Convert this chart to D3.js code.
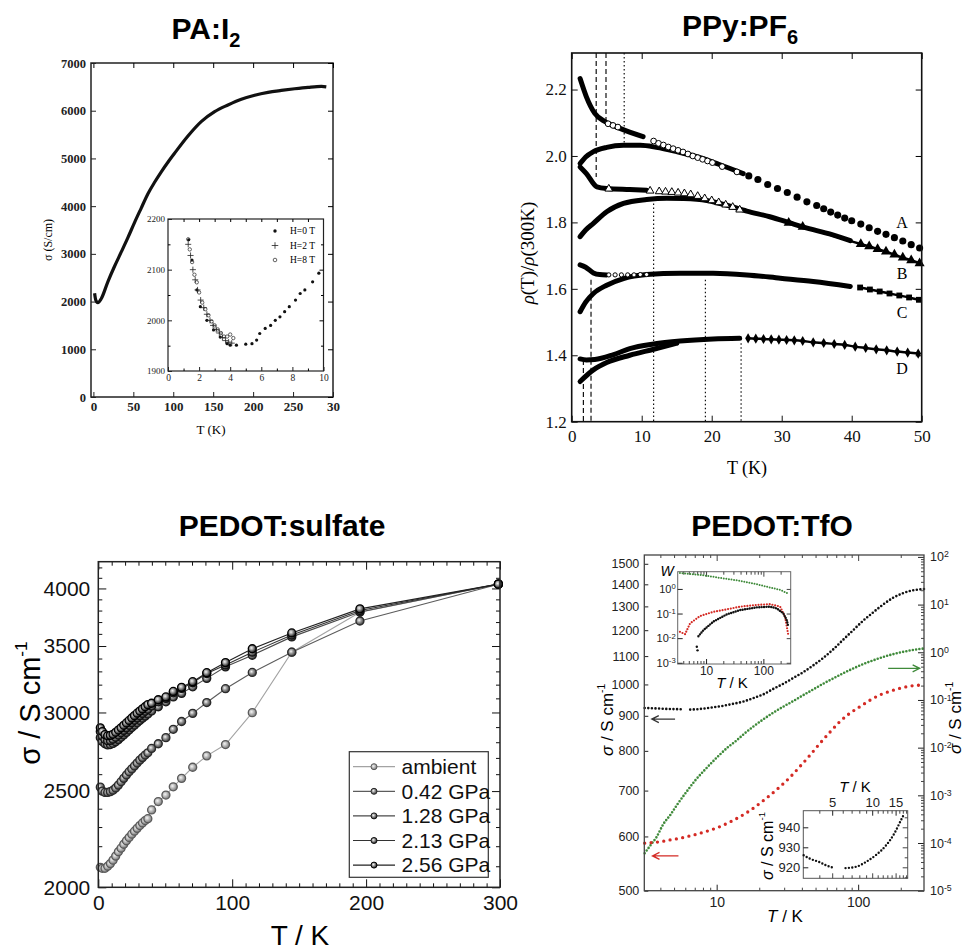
<!DOCTYPE html>
<html>
<head>
<meta charset="utf-8">
<script src="https://cdn.jsdelivr.net/npm/d3@7"></script>
<style>body{margin:0;background:#fff}</style>
</head>
<body>
<svg id="fig" width="965" height="952"></svg>
<script>
// ---------- PA:I2 (main + inset) ----------
const paT = [1.5, 3, 5.6, 9.8, 18.2, 26.5, 34.9, 43.2, 51.6, 59.9, 68.3, 76.6, 85, 93.3, 101.7, 118.4, 135, 151.8, 168.5, 185.2, 201.9, 218.6, 235.3, 252, 268.7, 285.4, 291.6]
const paSigma = [2173, 2030, 1977, 2060, 2420, 2740, 3040, 3340, 3660, 3960, 4260, 4500, 4720, 4920, 5110, 5470, 5771, 5980, 6120, 6240, 6325, 6385, 6425, 6460, 6490, 6510, 6500]
const paXTicks = [0, 50, 100, 150, 200, 250, 300]
const paYTicks = [0, 1000, 2000, 3000, 4000, 5000, 6000, 7000]
const h0T = [1.33, 1.54, 1.86, 2.08, 2.5, 2.93, 3.36, 3.8, 4.0, 4.4, 5.0, 5.4, 5.7, 5.9, 6.25, 6.6, 6.9, 7.2, 7.5, 7.8, 8.2, 8.5, 8.8, 9.3, 9.7]
const h0S = [2159, 2119, 2060, 2027, 2000, 1981, 1967, 1954, 1951, 1951, 1953, 1954, 1961, 1974, 1984, 1990, 2000, 2007, 2017, 2027, 2040, 2053, 2060, 2076, 2093]
const h2T = [1.3, 1.45, 1.6, 1.75, 1.9, 2.1, 2.3, 2.5, 2.7, 2.9, 3.1, 3.3, 3.5, 3.7, 3.9, 4.1]
const h2S = [2150, 2128, 2100, 2080, 2060, 2040, 2025, 2012, 2000, 1990, 1982, 1975, 1966, 1960, 1957, 1955]
const h8T = [1.3, 1.4, 1.55, 1.7, 1.85, 2.0, 2.2, 2.4, 2.6, 2.8, 3.0, 3.2, 3.4, 3.6, 3.8, 4.0, 4.2]
const h8S = [2160, 2140, 2115, 2090, 2075, 2055, 2035, 2022, 2010, 1998, 1990, 1982, 1975, 1968, 1968, 1972, 1965]
const paLegend = ["H=0 T", "H=2 T", "H=8 T"]

// ---------- PPy:PF6 ----------
const aHighT = [1.2, 2.1, 3.3, 4.8, 6.9, 10.2]
const aHighV = [2.233, 2.178, 2.128, 2.103, 2.083, 2.058]
const aOpenT = [5.2, 5.9, 6.6, 11.7, 12.4, 13.1, 13.8, 14.5, 15.2, 15.9, 16.6, 17.3, 18.0, 18.7, 19.4, 20.1, 21.5, 23.6]
const aOpenV = [2.097, 2.092, 2.087, 2.045, 2.038, 2.033, 2.027, 2.022, 2.017, 2.012, 2.006, 2.0, 1.995, 1.99, 1.985, 1.98, 1.968, 1.952]
const aLowT = [1.2, 2, 3.1, 5, 7.4, 9.8, 12.1, 15, 18, 21, 24.5]
const aLowV = [1.977, 1.997, 2.013, 2.026, 2.032, 2.032, 2.026, 2.013, 1.997, 1.975, 1.947]
const aTailT = [25.3, 26.6, 28, 29.4, 30.8, 32.2, 33.6, 35, 36, 37, 38, 39, 40, 41.3, 42.5, 43.7, 44.9, 46.1, 47.3, 48.5, 49.7]
const aTailV = [1.940, 1.929, 1.914, 1.902, 1.89, 1.876, 1.862, 1.851, 1.841, 1.831, 1.822, 1.813, 1.805, 1.795, 1.784, 1.773, 1.764, 1.754, 1.744, 1.733, 1.723]
const bHighT = [1.2, 2.1, 3.6, 5, 8.3, 10.7]
const bHighV = [1.967, 1.947, 1.907, 1.902, 1.899, 1.897]
const bOpenT = [5.3, 11.2, 12.5, 13.4, 14.3, 15.2, 16.1, 17, 18, 19, 20, 21, 22, 23, 24]
const bOpenV = [1.901, 1.895, 1.893, 1.892, 1.891, 1.889, 1.887, 1.884, 1.879, 1.872, 1.866, 1.86, 1.853, 1.846, 1.838]
const bLowT = [1.2, 2, 3.1, 5, 7.4, 10.7, 13.6, 16, 19.3, 22.1, 25, 28.3, 31.7, 34.5, 37.4, 39.8]
const bLowV = [1.757, 1.777, 1.797, 1.832, 1.857, 1.869, 1.873, 1.872, 1.866, 1.852, 1.834, 1.817, 1.795, 1.778, 1.762, 1.745]
const bTailT = [31, 33, 41.3, 42.5, 43.7, 44.9, 46.1, 47.3, 48.5, 49.7]
const bTailV = [1.799, 1.787, 1.735, 1.728, 1.72, 1.712, 1.703, 1.694, 1.686, 1.677]
const cHighT = [1.2, 2, 3.1, 4, 5]
const cHighV = [1.672, 1.665, 1.648, 1.643, 1.642]
const cOpenT = [5.3, 6.2, 7.1, 8, 8.9, 9.8, 10.7]
const cOpenV = [1.642, 1.642, 1.642, 1.642, 1.642, 1.643, 1.643]
const cLowT = [1.2, 2, 3.1, 5, 7.4, 10.7, 15.5, 20.2, 25, 29.8, 34.5, 39.8]
const cLowV = [1.531, 1.56, 1.586, 1.611, 1.631, 1.643, 1.647, 1.647, 1.642, 1.632, 1.622, 1.607]
const cTailT = [41.2, 42.6, 44, 45.4, 46.8, 48.2, 49.6]
const cTailV = [1.604, 1.598, 1.592, 1.586, 1.58, 1.574, 1.567]
const dHighT = [1.2, 2.1, 3.3, 6, 8.3, 11.7, 15.5, 20.2, 24]
const dHighV = [1.389, 1.386, 1.387, 1.402, 1.42, 1.434, 1.443, 1.449, 1.451]
const dLowT = [1.2, 3.1, 5, 8.3, 11.7, 15]
const dLowV = [1.321, 1.356, 1.378, 1.4, 1.418, 1.436]
const dTailT = [25.2, 26.3, 27.4, 28.5, 29.6, 30.7, 31.8, 33, 34.5, 36, 37.5, 39, 40.5, 42, 43.5, 45, 46.5, 48, 49.5]
const dTailV = [1.451, 1.45, 1.449, 1.448, 1.447, 1.446, 1.445, 1.443, 1.439, 1.437, 1.434, 1.431, 1.426, 1.422, 1.418, 1.415, 1.411, 1.408, 1.405]
const ppyCurveLabels = ["A", "B", "C", "D"]
const ppyLabelV = [1.8, 1.646, 1.53, 1.36]
const vlineT = [3.5, 4.9, 7.5, 2.76, 1.67, 11.7, 19.1, 24.2]
const vlineTop = [2.31, 2.31, 2.31, 1.627, 1.386, 1.857, 1.627, 1.436]
const vlineBottom = [1.937, 2.098, 2.04, 1.2, 1.2, 1.2, 1.2, 1.2]
const vlineDashed = [true, true, false, true, true, false, false, false]
const ppyXTicks = [0, 10, 20, 30, 40, 50]
const ppyYTicks = [1.2, 1.4, 1.6, 1.8, 2.0, 2.2]

// ---------- PEDOT:sulfate ----------
const sulfT = [1.5, 3, 5, 7, 9, 11, 13, 15, 17, 19, 21, 23, 25, 27, 29, 31, 33, 35, 37, 39.8, 44.8, 50.5, 56, 62.2, 70.5, 81, 95, 115, 144.5, 195.4, 298.8]
const sulfAmbient = [2095, 2090, 2090, 2100, 2113, 2130, 2150, 2172, 2190, 2210, 2228, 2245, 2262, 2278, 2293, 2308, 2322, 2335, 2345, 2393, 2440, 2477, 2525, 2575, 2642, 2713, 2785, 2999, 3450, 3785, 4040]
const sulf042 = [2523, 2500, 2492, 2492, 2497, 2505, 2518, 2535, 2555, 2575, 2595, 2615, 2632, 2650, 2668, 2686, 2702, 2718, 2732, 2760, 2790, 2830, 2885, 2938, 2994, 3070, 3170, 3292, 3450, 3709, 4040]
const sulf128 = [2830, 2805, 2790, 2783, 2785, 2792, 2803, 2817, 2832, 2848, 2864, 2880, 2897, 2913, 2929, 2945, 2960, 2975, 2990, 3010, 3040, 3075, 3110, 3136, 3184, 3247, 3335, 3426, 3575, 3788, 4040]
const sulf213 = [2870, 2840, 2818, 2810, 2812, 2820, 2832, 2847, 2862, 2878, 2895, 2912, 2930, 2946, 2962, 2978, 2993, 3008, 3022, 3045, 3075, 3100, 3140, 3172, 3214, 3284, 3350, 3450, 3590, 3800, 4040]
const sulf256 = [2895, 2870, 2850, 2842, 2845, 2852, 2865, 2880, 2895, 2912, 2928, 2945, 2962, 2978, 2995, 3010, 3025, 3040, 3055, 3065, 3090, 3110, 3150, 3180, 3222, 3290, 3368, 3478, 3608, 3815, 4040]
const sulfNames = ["ambient", "0.42 GPa", "1.28 GPa", "2.13 GPa", "2.56 GPa"]
const sulfXTicks = [0, 100, 200, 300]
const sulfYTicks = [2000, 2500, 3000, 3500, 4000]

// ---------- PEDOT:TfO ----------
const tfoBlackLowT = [3.1, 3.5, 4.0, 4.5, 5.0, 5.6]
const tfoBlackLowS = [924, 923, 922, 921, 920.5, 920]
const tfoBlackT = [6.5, 7.2, 8.0, 9.47, 11.2, 13.1, 15.4, 18.1, 21.3, 25.1, 29.5, 34.8, 40.9, 48.1, 56.6, 66.6, 78.3, 92.2, 108, 127.6, 150, 176.6, 208, 244, 270, 292]
const tfoBlackS = [919, 920, 922, 926, 931, 937, 944, 955, 967, 985, 1002, 1022, 1042, 1066, 1093, 1125, 1162, 1200, 1238, 1274, 1308, 1338, 1359, 1372, 1376, 1378]
const tfoGreenT = [3.1, 3.4, 3.77, 4.2, 4.68, 5.3, 6.14, 7, 8.04, 9.2, 10.5, 12, 13.8, 15.8, 18.1, 21.3, 25.1, 29.5, 34.8, 40.9, 48.1, 56.6, 66.6, 78.3, 92.2, 108, 127.6, 150, 176.6, 208, 244, 292]
const tfoGreenS = [6.1e-5, 8.9e-5, 1.35e-4, 2.5e-4, 3.8e-4, 6.6e-4, 1.2e-3, 2.0e-3, 3.16e-3, 4.8e-3, 7.1e-3, 1.02e-2, 1.41e-2, 2.0e-2, 2.75e-2, 3.9e-2, 5.4e-2, 7.2e-2, 9.5e-2, 0.126, 0.166, 0.219, 0.282, 0.363, 0.457, 0.562, 0.676, 0.794, 0.912, 1.02, 1.12, 1.2]
const tfoRedT = [3.1, 3.5, 3.98, 4.6, 5.5, 6.5, 7.62, 9, 10.5, 12.4, 14.6, 17.2, 20.2, 23.8, 28, 33, 38.7, 45.6, 53.7, 63.1, 74.2, 87.3, 102.7, 120.8, 142, 167, 197, 232, 270, 292]
const tfoRedS = [9.9e-5, 1.02e-4, 1.06e-4, 1.15e-4, 1.26e-4, 1.41e-4, 1.6e-4, 1.86e-4, 2.2e-4, 2.75e-4, 3.56e-4, 4.8e-4, 6.8e-4, 1.0e-3, 1.51e-3, 2.4e-3, 4.0e-3, 6.9e-3, 1.23e-2, 2.1e-2, 3.5e-2, 5.25e-2, 7.2e-2, 9.8e-2, 0.127, 0.151, 0.175, 0.195, 0.204, 0.205]
const tfoLeftTicks = [500, 600, 700, 800, 900, 1000, 1100, 1200, 1300, 1400, 1500]
const tfoRightTicks = [1e-5, 1e-4, 1e-3, 1e-2, 1e-1, 1, 10, 100]
const wGreenT = [3.5, 5, 7.9, 12, 17.5, 26, 39, 58, 87, 130, 196, 280]
const wGreenV = [4.47, 4.07, 3.72, 3.24, 2.82, 2.45, 2.14, 1.78, 1.45, 1.15, 0.91, 0.63]
const wRedT = [3.5, 4.3, 5.27, 7.86, 13.4, 23, 39.2, 76.7, 131, 196, 239, 273]
const wRedV = [0.018, 0.0145, 0.04, 0.079, 0.117, 0.148, 0.19, 0.224, 0.24, 0.19, 0.074, 0.013]
const wBlackT = [7.35, 8.97, 13.4, 23, 39.2, 76.7, 131, 171, 223, 256, 273]
const wBlackV = [0.012, 0.021, 0.047, 0.093, 0.138, 0.178, 0.19, 0.162, 0.102, 0.054, 0.029]
const wStrayT = [6.9, 7.1]
const wStrayV = [0.0045, 0.0032]
const i2LowT = [3.05, 3.4, 4.05, 4.5, 5.0]
const i2LowS = [926, 924.3, 922.5, 921, 920]
const i2T = [6.3, 7.6, 9.04, 10.7, 12.8, 14.7, 16.5, 17.5]
const i2S = [919.6, 920.3, 922.8, 926.2, 931.2, 937, 943.7, 947]

const SERIF = "'Liberation Serif','Times New Roman',serif"
const SANS = "'Liberation Sans',Arial,Helvetica,sans-serif"
const svg = d3.select("#fig")
svg.append("rect").attr("width", 965).attr("height", 952).attr("fill", "#fff")

const zip = (a, b) => a.map((v, i) => [v, b[i]])

// inward ticks on any side, labels optional
function axis(parent, gen, scale, pos, vals, size, fmt, pad, font, fs, color) {
    const horiz = gen === d3.axisBottom || gen === d3.axisTop
    const a = gen(scale).tickValues(vals).tickSize(-size).tickPadding(pad || 3)
        .tickFormat(fmt || (() => ""))
    const g = parent.append("g")
        .attr("transform", horiz ? `translate(0,${pos})` : `translate(${pos},0)`)
        .call(a)
    g.select(".domain").remove()
    g.attr("font-family", font || SANS).attr("font-size", fs || 12)
    g.selectAll("line").attr("stroke", color || "#000")
    g.selectAll("text").attr("fill", color || "#000")
    return g
}
function frame(parent, x, y, stroke, sw, fill) {
    const [x0, x1] = x.range(), [y0, y1] = y.range()
    parent.append("rect")
        .attr("x", Math.min(x0, x1)).attr("y", Math.min(y0, y1))
        .attr("width", Math.abs(x1 - x0)).attr("height", Math.abs(y1 - y0))
        .attr("fill", fill || "none").attr("stroke", stroke).attr("stroke-width", sw)
}
function sup10(sel) {
    sel.selectAll(".tick text").each(function (d) {
        const e = Math.round(Math.log10(d))
        const t = d3.select(this).text("10")
        t.append("tspan").attr("dy", "-0.45em").attr("font-size", "0.7em").text(e)
    })
}
function title(x, y, main, sub) {
    const t = svg.append("text").attr("x", x).attr("y", y).attr("text-anchor", "middle")
        .attr("font-family", SANS).attr("font-weight", "bold").attr("font-size", 30).text(main)
    if (sub) t.append("tspan").attr("font-size", 20).attr("dy", 8).text(sub)
}
function sigmaLabel(parent, x, y, fs, italic) {
    const t = parent.append("text").attr("transform", `translate(${x},${y}) rotate(-90)`)
        .attr("text-anchor", "middle").attr("dy", "0.35em")
        .attr("font-family", SANS).attr("font-size", fs)
    t.append("tspan").attr("font-style", italic ? "italic" : "normal").text("σ")
    t.append("tspan").text(" / S cm")
    t.append("tspan").attr("dy", "-0.75em").attr("font-size", "0.6em").text("-1")
}

// ================= PA:I2 =================
title(206, 39, "PA:I", "2")
const pa = svg.append("g")
const x1 = d3.scaleLinear().domain([-3, 300]).range([91, 333])
const y1 = d3.scaleLinear().domain([0, 7000]).range([397, 63])
frame(pa, x1, y1, "#222", 1.5)
axis(pa, d3.axisBottom, x1, 397, paXTicks, 5, d => d === 300 ? "30" : d, 5, SERIF, 13, "#222").attr("font-weight", "bold")
axis(pa, d3.axisTop, x1, 63, paXTicks, 5)
axis(pa, d3.axisLeft, y1, 91, paYTicks, 5, d => d, 5, SERIF, 12.5, "#222").attr("font-weight", "bold")
axis(pa, d3.axisRight, y1, 333, paYTicks, 5)
pa.append("path").datum(zip(paT, paSigma))
    .attr("fill", "none").attr("stroke", "#111").attr("stroke-width", 3.2).attr("stroke-linejoin", "round")
    .attr("d", d3.line().x(d => x1(d[0])).y(d => y1(d[1])).curve(d3.curveMonotoneX))
pa.append("text").attr("transform", "translate(48,240) rotate(-90)").attr("text-anchor", "middle")
    .attr("dy", "0.35em").attr("font-family", SERIF).attr("font-size", 12).text("σ (S/cm)")
pa.append("text").attr("x", 211).attr("y", 434).attr("text-anchor", "middle")
    .attr("font-family", SERIF).attr("font-size", 13).text("T (K)")

// inset
const x1i = d3.scaleLinear().domain([0, 10]).range([168, 323.5])
const y1i = d3.scaleLinear().domain([1900, 2200]).range([371, 219])
frame(pa, x1i, y1i, "#222", 1.2, "#fff")
axis(pa, d3.axisBottom, x1i, 371, [0, 2, 4, 6, 8, 10], 4, d => d, 3, SERIF, 9.5, "#222")
axis(pa, d3.axisBottom, x1i, 371, [1, 3, 5, 7, 9], 2.5)
axis(pa, d3.axisTop, x1i, 219, [1, 2, 3, 4, 5, 6, 7, 8, 9], 3)
axis(pa, d3.axisLeft, y1i, 168, [1900, 2000, 2100, 2200], 4, d => d, 3, SERIF, 9, "#222")
axis(pa, d3.axisLeft, y1i, 168, [1950, 2050, 2150], 2.5)
axis(pa, d3.axisRight, y1i, 323.5, [2000, 2100], 4)
axis(pa, d3.axisRight, y1i, 323.5, [1950, 2050, 2150], 2.5)
pa.append("g").selectAll("circle").data(zip(h0T, h0S)).join("circle")
    .attr("cx", d => x1i(d[0])).attr("cy", d => y1i(d[1])).attr("r", 1.6).attr("fill", "#111")
pa.append("g").selectAll("path").data(zip(h2T, h2S)).join("path")
    .attr("transform", d => `translate(${x1i(d[0])},${y1i(d[1])})`)
    .attr("d", d3.symbol(d3.symbolPlus, 14)).attr("fill", "none").attr("stroke", "#222").attr("stroke-width", 0.8)
pa.append("g").selectAll("circle").data(zip(h8T, h8S)).join("circle")
    .attr("cx", d => x1i(d[0])).attr("cy", d => y1i(d[1])).attr("r", 1.7)
    .attr("fill", "none").attr("stroke", "#222").attr("stroke-width", 0.7)
const paLeg = pa.append("g").attr("font-family", SERIF).attr("font-size", 9.5)
paLeg.selectAll("text").data(paLegend).join("text")
    .attr("x", 290).attr("y", (d, i) => 231 + i * 14.5).attr("dy", "0.35em").text(d => d)
paLeg.append("circle").attr("cx", 275).attr("cy", 231).attr("r", 1.7).attr("fill", "#111")
paLeg.append("path").attr("transform", "translate(275,245.5)").attr("d", d3.symbol(d3.symbolPlus, 16))
    .attr("fill", "none").attr("stroke", "#222").attr("stroke-width", 0.8)
paLeg.append("circle").attr("cx", 275).attr("cy", 260).attr("r", 1.8).attr("fill", "none").attr("stroke", "#222").attr("stroke-width", 0.7)

// ================= PPy:PF6 =================
title(740, 36, "PPy:PF", "6")
const pp = svg.append("g")
const x2 = d3.scaleLinear().domain([0, 50]).range([571.7, 921.7])
const y2 = d3.scaleLinear().domain([1.2, 2.31]).range([421.7, 53])
axis(pp, d3.axisBottom, x2, 421.7, ppyXTicks, 6, d => d, 8, SERIF, 17, "#111")
axis(pp, d3.axisTop, x2, 53, ppyXTicks, 6)
axis(pp, d3.axisLeft, y2, 571.7, ppyYTicks, 6, d3.format(".1f"), 5, SERIF, 17, "#111")
axis(pp, d3.axisRight, y2, 921.7, ppyYTicks, 6)
// guide lines
pp.append("g").selectAll("line").data(vlineT).join("line")
    .attr("x1", d => x2(d)).attr("x2", d => x2(d))
    .attr("y1", (d, i) => y2(vlineTop[i])).attr("y2", (d, i) => y2(vlineBottom[i]))
    .attr("stroke", "#111").attr("stroke-width", 1.2)
    .attr("stroke-dasharray", (d, i) => vlineDashed[i] ? "5,3" : "1.5,2.5")
const ppLine = d3.line().x(d => x2(d[0])).y(d => y2(d[1])).curve(d3.curveMonotoneX)
const ppyThick = [[aHighT, aHighV], [aLowT, aLowV], [bHighT, bHighV], [bLowT, bLowV],
    [cHighT, cHighV], [cLowT, cLowV], [dHighT, dHighV], [dLowT, dLowV]]
pp.append("g").selectAll("path").data(ppyThick).join("path")
    .attr("d", d => ppLine(zip(d[0], d[1]))).attr("fill", "none").attr("stroke", "#000")
    .attr("stroke-width", 5).attr("stroke-linecap", "round")
const ppyThin = [[aTailT, aTailV], [bTailT, bTailV], [cTailT, cTailV], [dTailT, dTailV]]
pp.append("g").selectAll("path").data(ppyThin.slice(1)).join("path")
    .attr("d", d => ppLine(zip(d[0], d[1]))).attr("fill", "none").attr("stroke", "#000")
    .attr("stroke-width", 2.5)
const tailSym = [d3.symbolCircle, d3.symbolTriangle, d3.symbolSquare, d3.symbolDiamond]
const tailSize = [40, 44, 34, 30]
ppyThin.forEach((s, k) => {
    pp.append("g").selectAll("path").data(zip(s[0], s[1])).join("path")
        .attr("transform", d => `translate(${x2(d[0])},${y2(d[1])})`)
        .attr("d", d3.symbol(tailSym[k], tailSize[k])).attr("fill", "#000")
})
const ppyOpen = [[aOpenT, aOpenV, d3.symbolCircle, 26], [bOpenT, bOpenV, d3.symbolTriangle, 26], [cOpenT, cOpenV, d3.symbolCircle, 14]]
ppyOpen.forEach(s => {
    pp.append("g").selectAll("path").data(zip(s[0], s[1])).join("path")
        .attr("transform", d => `translate(${x2(d[0])},${y2(d[1])})`)
        .attr("d", d3.symbol(s[2], s[3])).attr("fill", "#fff").attr("stroke", "#000").attr("stroke-width", 1)
})
frame(pp, x2, y2, "#111", 1.6)
pp.append("g").attr("font-family", SERIF).attr("font-size", 16).selectAll("text").data(ppyCurveLabels).join("text")
    .attr("x", x2(47.2)).attr("y", (d, i) => y2(ppyLabelV[i])).attr("dy", "0.35em").attr("text-anchor", "middle")
    .text(d => d)
const ppYt = pp.append("text").attr("transform", "translate(527,253) rotate(-90)").attr("text-anchor", "middle")
    .attr("dy", "0.35em").attr("font-family", SERIF).attr("font-size", 19)
ppYt.append("tspan").attr("font-style", "italic").text("ρ")
ppYt.append("tspan").text("(T)/")
ppYt.append("tspan").attr("font-style", "italic").text("ρ")
ppYt.append("tspan").text("(300K)")
pp.append("text").attr("x", 747).attr("y", 474).attr("text-anchor", "middle")
    .attr("font-family", SERIF).attr("font-size", 18).text("T (K)")

// ================= PEDOT:sulfate =================
title(282, 536, "PEDOT:sulfate")
const sf = svg.append("g")
const x3 = d3.scaleLinear().domain([0, 300]).range([98.3, 500])
const y3 = d3.scaleLog().domain([2000, 4256]).range([887.3, 561.7])
const sfMinorX = d3.range(10, 300, 10).filter(v => v % 100 !== 0)
const sfMinorY = d3.range(2100, 4300, 100).filter(v => v % 500 !== 0)
axis(sf, d3.axisBottom, x3, 887.3, sulfXTicks, 8, d => d, 8, SANS, 21, "#111")
axis(sf, d3.axisBottom, x3, 887.3, sfMinorX, 4, null, 3, SANS, 10, "#111")
axis(sf, d3.axisTop, x3, 561.7, sulfXTicks, 8, null, 3, SANS, 10, "#111")
axis(sf, d3.axisTop, x3, 561.7, sfMinorX, 4, null, 3, SANS, 10, "#111")
axis(sf, d3.axisLeft, y3, 98.3, sulfYTicks, 8, d => d, 8, SANS, 21, "#111")
axis(sf, d3.axisLeft, y3, 98.3, sfMinorY, 4, null, 3, SANS, 10, "#111")
axis(sf, d3.axisRight, y3, 500, sulfYTicks, 8, null, 3, SANS, 10, "#111")
axis(sf, d3.axisRight, y3, 500, sfMinorY, 4, null, 3, SANS, 10, "#111")

const sulfSeries = [sulfAmbient, sulf042, sulf128, sulf213, sulf256]
const sulfLine = ["#a3a3a3", "#5c5c5c", "#4a4a4a", "#333", "#222"]
const sulfBall = ["#7a7a7a", "#3a3a3a", "#262626", "#1c1c1c", "#0e0e0e"]
const sulfRim = ["#5a5a5a", "#2a2a2a", "#181818", "#101010", "#000"]
const defs = svg.append("defs")
sulfBall.forEach((c, i) => {
    const gr = defs.append("radialGradient").attr("id", "ball" + i).attr("cx", "40%").attr("cy", "40%").attr("r", "60%")
    gr.append("stop").attr("offset", "0%").attr("stop-color", "#f6f6f6")
    gr.append("stop").attr("offset", "40%").attr("stop-color", i === 0 ? "#c4c4c4" : "#a0a0a0")
    gr.append("stop").attr("offset", "100%").attr("stop-color", c)
})
const sfLine = d3.line().x(d => x3(d[0])).y(d => y3(d[1]))
sulfSeries.forEach((s, i) => {
    sf.append("path").datum(zip(sulfT, s)).attr("d", sfLine)
        .attr("fill", "none").attr("stroke", sulfLine[i]).attr("stroke-width", 1.1)
    sf.append("g").selectAll("circle").data(zip(sulfT, s)).join("circle")
        .attr("cx", d => x3(d[0])).attr("cy", d => y3(d[1])).attr("r", 4)
        .attr("fill", `url(#ball${i})`).attr("stroke", sulfRim[i]).attr("stroke-width", 1.3)
})
frame(sf, x3, y3, "#222", 1.5)
const lg = sf.append("g")
lg.append("rect").attr("x", 349.3).attr("y", 751.7).attr("width", 139).attr("height", 125.6)
    .attr("fill", "#fff").attr("stroke", "#333").attr("stroke-width", 1.2)
sulfNames.forEach((n, i) => {
    const yy = 766.7 + i * 24.6
    lg.append("line").attr("x1", 353).attr("x2", 395).attr("y1", yy).attr("y2", yy)
        .attr("stroke", sulfLine[i]).attr("stroke-width", 1.2)
    lg.append("circle").attr("cx", 374).attr("cy", yy).attr("r", 3)
        .attr("fill", `url(#ball${i})`).attr("stroke", sulfRim[i]).attr("stroke-width", 1)
    lg.append("text").attr("x", 401.5).attr("y", yy).attr("dy", "0.35em")
        .attr("font-family", SANS).attr("font-size", 21).attr("fill", "#111").text(n)
})
sigmaLabel(sf, 30, 703, 29, false)
sf.append("text").attr("x", 300).attr("y", 945).attr("text-anchor", "middle")
    .attr("font-family", SANS).attr("font-size", 28).text("T / K")

// ================= PEDOT:TfO =================
title(772, 536, "PEDOT:TfO")
const tf = svg.append("g")
const x4 = d3.scaleLog().domain([3.08, 292]).range([644.3, 924])
const y4L = d3.scaleLog().domain([500, 1545]).range([890.7, 555])
const y4R = d3.scaleLog().domain([1e-5, 109.6]).range([890.7, 555])
const decMinor = (lo, hi) => d3.range(lo, hi).flatMap(e => d3.range(2, 10).map(m => m * Math.pow(10, e)))
const tfMinorX = [4, 5, 6, 7, 8, 9, 20, 30, 40, 50, 60, 70, 80, 90, 200]
const tfMinorR = decMinor(-5, 2)
const grey = "#444"
axis(tf, d3.axisBottom, x4, 890.7, [10, 100], 6, d => d, 6, SANS, 14, "#222")
axis(tf, d3.axisBottom, x4, 890.7, tfMinorX, 3, null, 3, SANS, 10, grey)
axis(tf, d3.axisTop, x4, 555, [10, 100], 6, null, 3, SANS, 10, grey)
axis(tf, d3.axisTop, x4, 555, tfMinorX, 3, null, 3, SANS, 10, grey)
axis(tf, d3.axisLeft, y4L, 644.3, tfoLeftTicks, 4, d => d, 5, SANS, 12.5, "#222")
const rAx = axis(tf, d3.axisRight, y4R, 924, tfoRightTicks, 6, d => d, 6, SANS, 12.5, "#222")
sup10(rAx)
axis(tf, d3.axisRight, y4R, 924, tfMinorR, 3, null, 3, SANS, 10, grey)

const tfLineR = d3.line().x(d => x4(d[0])).y(d => y4R(d[1])).curve(d3.curveMonotoneX)
const tfLineL = d3.line().x(d => x4(d[0])).y(d => y4L(d[1])).curve(d3.curveMonotoneX)
function dotted(parent, d, gen, color, w, gap) {
    parent.append("path").attr("d", gen(d)).attr("fill", "none").attr("stroke", color)
        .attr("stroke-width", w).attr("stroke-linecap", "round").attr("stroke-dasharray", `0,${gap}`)
}
dotted(tf, zip(tfoGreenT, tfoGreenS), tfLineR, "#3f8a3a", 2.6, 3.3)
dotted(tf, zip(tfoRedT, tfoRedS), tfLineR, "#d42a24", 3.3, 6.4)
dotted(tf, zip(tfoBlackLowT, tfoBlackLowS), tfLineL, "#111", 2.6, 3.6)
dotted(tf, zip(tfoBlackT, tfoBlackS), tfLineL, "#111", 2.6, 3.6)
frame(tf, x4, y4L, grey, 1.3)

function arrow(g, x1, y, x2, color) {
    const dir = Math.sign(x2 - x1)
    g.append("path").attr("d", `M${x1},${y}H${x2}M${x2 - dir * 7},${y - 3.5}L${x2},${y}L${x2 - dir * 7},${y + 3.5}`)
        .attr("fill", "none").attr("stroke", color).attr("stroke-width", 1.3)
}
arrow(tf, x4(5.08), y4L(890), x4(3.48), "#333")
arrow(tf, x4(5.37), y4L(562), x4(3.52), "#d42a24")
arrow(tf, x4(163), y4R(0.46), x4(272), "#3f8a3a")

sigmaLabel(tf, 607, 720, 17, true)
sigmaLabel(tf, 955, 718, 17, true)
const tfX = tf.append("text").attr("x", 785).attr("y", 922).attr("text-anchor", "middle")
    .attr("font-family", SANS).attr("font-size", 17)
tfX.append("tspan").attr("font-style", "italic").text("T")
tfX.append("tspan").text(" / K")

// W inset
const xw = d3.scaleLog().domain([3.2, 300]).range([677.7, 790.7])
const yw = d3.scaleLog().domain([Math.pow(10, -3.05), Math.pow(10, 0.7)]).range([664, 571.7])
frame(tf, xw, yw, "#666", 1, "#fff")
axis(tf, d3.axisBottom, xw, 664, [10, 100], 5, d => d, 2, SANS, 12, "#222")
axis(tf, d3.axisBottom, xw, 664, tfMinorX, 3, null, 3, SANS, 10, grey)
axis(tf, d3.axisTop, xw, 571.7, [10, 100], 5, null, 3, SANS, 10, grey)
axis(tf, d3.axisTop, xw, 571.7, tfMinorX, 3, null, 3, SANS, 10, grey)
const wAx = axis(tf, d3.axisLeft, yw, 677.7, [1e-3, 1e-2, 1e-1, 1], 5, d => d, 2, SANS, 11, "#222")
sup10(wAx)
axis(tf, d3.axisRight, yw, 790.7, [1e-3, 1e-2, 1e-1, 1], 4, null, 3, SANS, 10, grey)
const wLine = d3.line().x(d => xw(d[0])).y(d => yw(d[1]))
dotted(tf, zip(wGreenT, wGreenV), wLine, "#3f8a3a", 2, 2.6)
dotted(tf, zip(wRedT, wRedV), wLine, "#d42a24", 2.2, 2.8)
dotted(tf, zip(wBlackT, wBlackV), wLine, "#111", 2.4, 2.4)
tf.append("g").selectAll("circle").data(zip(wStrayT, wStrayV)).join("circle")
    .attr("cx", d => xw(d[0])).attr("cy", d => yw(d[1])).attr("r", 1.2).attr("fill", "#111")
tf.append("text").attr("x", 667).attr("y", 576).attr("text-anchor", "middle")
    .attr("font-family", SANS).attr("font-style", "italic").attr("font-size", 14).text("W")
const wX = tf.append("text").attr("x", 732).attr("y", 688).attr("text-anchor", "middle")
    .attr("font-family", SANS).attr("font-size", 15)
wX.append("tspan").attr("font-style", "italic").text("T")
wX.append("tspan").text(" / K")

// low-T inset
const xi = d3.scaleLog().domain([3.03, 18.5]).range([803.3, 907.7])
const yi = d3.scaleLinear().domain([914.5, 948.3]).range([878.3, 810.7])
const iMinor = [4, 6, 7, 8, 9, 11, 12, 13, 14, 16, 17, 18]
frame(tf, xi, yi, "#555", 1, "#fff")
axis(tf, d3.axisTop, xi, 810.7, [5, 10, 15], 5, d => d, 4, SANS, 13, "#222")
axis(tf, d3.axisTop, xi, 810.7, iMinor, 3, null, 3, SANS, 10, grey)
axis(tf, d3.axisBottom, xi, 878.3, [5, 10, 15], 5, null, 3, SANS, 10, grey)
axis(tf, d3.axisBottom, xi, 878.3, iMinor, 3, null, 3, SANS, 10, grey)
axis(tf, d3.axisLeft, yi, 803.3, [920, 930, 940], 5, d => d, 3, SANS, 13, "#222")
axis(tf, d3.axisRight, yi, 907.7, [920, 930, 940], 5, null, 3, SANS, 10, grey)
axis(tf, d3.axisRight, yi, 907.7, [915, 925, 935, 945], 3, null, 3, SANS, 10, grey)
const iLine = d3.line().x(d => xi(d[0])).y(d => yi(d[1])).curve(d3.curveMonotoneX)
dotted(tf, zip(i2LowT, i2LowS), iLine, "#111", 2.4, 3.4)
dotted(tf, zip(i2T, i2S), iLine, "#111", 2.4, 3.4)
const iX = tf.append("text").attr("x", 855).attr("y", 792).attr("text-anchor", "middle")
    .attr("font-family", SANS).attr("font-size", 15)
iX.append("tspan").attr("font-style", "italic").text("T")
iX.append("tspan").text(" / K")
sigmaLabel(tf, 767, 846, 16, true)
</script>
</body>
</html>
